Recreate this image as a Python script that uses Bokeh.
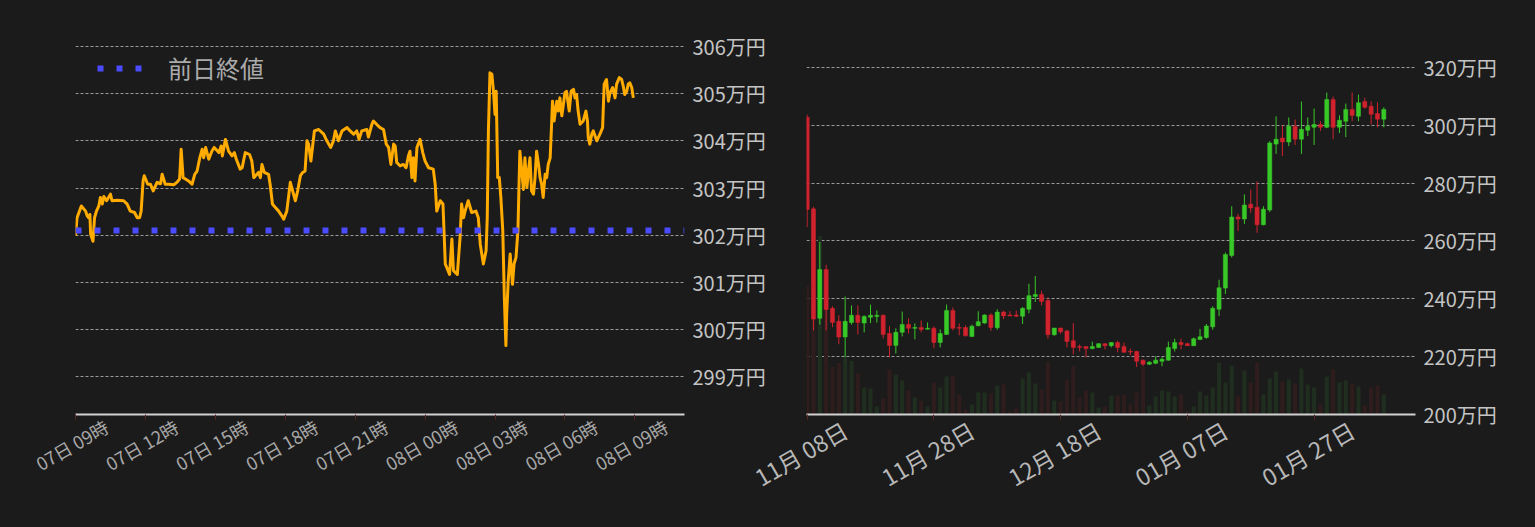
import numpy as np
import pandas as pd
from bokeh.plotting import figure
from bokeh.layouts import row
from bokeh.models import (Range1d, FixedTicker, PrintfTickFormatter, CustomJSTickFormatter,
                          LinearAxis, Legend, LegendItem)
from bokeh.embed import file_html
from bokeh.resources import INLINE

FONT = "Noto Sans CJK JP"
BG = "#1b1b1b"

# ---------------- intraday (left) ----------------
intraday_start = "2024-02-07 09:00"
intraday_minutes = [
    0, 4, 15, 26, 30, 34, 37, 39, 45, 49, 54, 60, 64, 69, 73, 80, 90, 94, 107, 124,
    133, 141, 152, 159, 165, 169, 174, 177, 186, 193, 200, 210, 219, 223, 231, 240, 253, 261, 268, 272,
    277, 283, 291, 300, 307, 313, 320, 326, 330, 335, 343, 351, 357, 369, 375, 378, 386, 394, 403, 409,
    414, 424, 429, 437, 448, 454, 459, 471, 476, 480, 486, 497, 501, 507, 514, 523, 531, 536, 544, 553,
    559, 566, 572, 579, 585, 591, 596, 600, 606, 615, 626, 639, 647, 657, 664, 669, 673, 677, 686, 699,
    707, 716, 724, 730, 737, 750, 754, 763, 767, 780, 784, 793, 800, 806, 812, 819, 823, 827, 836, 844,
    851, 857, 861, 866, 870, 874, 879, 887, 894, 900, 909, 921, 926, 930, 939, 946, 952, 963, 969, 973,
    983, 990, 994, 999, 1003, 1011, 1020, 1031, 1037, 1042, 1050, 1057, 1060, 1063, 1067, 1072, 1076, 1080, 1083, 1087,
    1091, 1095, 1100, 1104, 1108, 1110, 1114, 1119, 1125, 1129, 1134, 1139, 1141, 1144, 1149, 1153, 1157, 1162, 1166, 1170,
    1174, 1179, 1183, 1187, 1192, 1196, 1200, 1204, 1209, 1213, 1217, 1222, 1226, 1228, 1232, 1239, 1243, 1247, 1252, 1256,
    1260, 1264, 1271, 1276, 1282, 1286, 1290, 1294, 1299, 1307, 1314, 1318, 1320, 1324, 1329, 1333, 1342, 1350, 1357, 1361,
    1367, 1372, 1376, 1383, 1389, 1393, 1400, 1406, 1410, 1414, 1419, 1423, 1427, 1432, 1436,
]
intraday_price = [
    301.99, 302.37, 302.62, 302.51, 302.41, 302.37, 302.44, 302.02, 301.87, 302.37, 302.51, 302.62, 302.80, 302.66, 302.82, 302.73, 302.87, 302.73, 302.74, 302.73,
    302.66, 302.51, 302.48, 302.37, 302.37, 302.51, 303.15, 303.26, 303.08, 303.08, 302.94, 303.12, 303.09, 303.29, 303.08, 303.08, 303.07, 303.12, 303.19, 303.82,
    303.22, 303.19, 303.15, 303.08, 303.29, 303.36, 303.64, 303.82, 303.64, 303.86, 303.61, 303.78, 303.86, 303.75, 303.89, 303.68, 304.03, 303.78, 303.68, 303.75,
    303.61, 303.40, 303.43, 303.75, 303.71, 303.57, 303.22, 303.33, 303.22, 303.50, 303.33, 303.29, 303.08, 302.66, 302.59, 302.51, 302.41, 302.34, 302.51, 303.12,
    302.94, 302.73, 302.94, 303.26, 303.33, 303.36, 304.00, 303.93, 303.57, 304.21, 304.24, 304.14, 304.00, 303.86, 304.00, 304.21, 304.11, 304.00, 304.21, 304.28,
    304.21, 304.14, 304.21, 304.03, 304.21, 304.24, 304.08, 304.35, 304.42, 304.31, 304.28, 304.24, 303.93, 303.86, 303.50, 303.93, 303.89, 303.54, 303.47, 303.50,
    303.43, 303.68, 303.78, 303.22, 303.64, 303.15, 303.86, 304.03, 303.75, 303.57, 303.43, 303.40, 303.08, 302.51, 302.73, 302.66, 301.39, 301.17, 301.92, 301.25,
    301.17, 301.95, 302.66, 302.37, 302.51, 302.73, 302.48, 302.51, 302.37, 301.81, 301.39, 301.67, 302.37, 304.21, 305.44, 305.41, 305.05, 304.56, 305.05, 303.22,
    303.22, 302.80, 302.09, 300.68, 299.66, 300.33, 301.03, 301.60, 300.96, 301.39, 301.53, 302.09, 302.80, 303.78, 303.36, 302.97, 303.64, 303.01, 303.36, 303.64,
    302.94, 302.87, 303.22, 303.78, 303.50, 303.22, 303.08, 302.80, 303.29, 303.22, 303.50, 303.64, 304.42, 304.84, 304.42, 304.84, 304.63, 304.91, 304.53, 304.77,
    305.02, 305.05, 304.63, 305.05, 305.09, 304.91, 304.98, 304.63, 304.35, 304.42, 304.63, 304.42, 304.07, 303.93, 304.14, 304.21, 304.00, 304.14, 304.28, 305.20,
    305.30, 304.84, 305.02, 305.13, 304.91, 305.20, 305.34, 305.30, 305.16, 304.98, 305.05, 305.20, 305.23, 305.13, 304.91,
]
prev_close = 302.1
intraday_yticks = [299, 300, 301, 302, 303, 304, 305, 306]
intraday_tick_hours = [0, 3, 6, 9, 12, 15, 18, 21, 24]
intraday_tick_labels = ["07日 09時", "07日 12時", "07日 15時", "07日 18時", "07日 21時",
                        "08日 00時", "08日 03時", "08日 06時", "08日 09時"]
legend_label = "前日終値"

# ---------------- daily (right) ----------------
daily_start = "2023-11-08"
daily_open = [302.8, 271.1, 233.3, 250.1, 236.7, 232.2, 226.8, 231.8, 234.3, 231.6,
              233.6, 233.9, 234.3, 228.0, 223.9, 228.4, 231.1, 229.8, 230.1, 229.5,
              229.8, 224.9, 227.7, 236.0, 230.1, 230.1, 227.0, 230.7, 231.6, 234.4,
              230.0, 235.4, 234.4, 234.4, 234.0, 236.4, 240.8, 241.5, 239.4, 227.6,
              229.9, 228.9, 225.5, 223.5, 223.5, 222.8, 223.2, 224.5, 223.8, 224.9,
              223.5, 221.8, 221.8, 218.8, 217.4, 217.7, 218.4, 218.8, 222.8, 224.9,
              224.5, 223.8, 225.9, 226.6, 230.3, 236.4, 243.7, 255.0, 268.3, 267.6,
              272.7, 271.7, 265.6, 270.7, 293.5, 295.6, 294.2, 299.7, 295.2, 298.3,
              299.3, 300.3, 299.3, 308.9, 299.3, 301.4, 305.5, 303.1, 308.2, 306.6,
              304.1, 302.1]
daily_high = [303.7, 271.8, 259.7, 251.8, 237.4, 234.3, 240.8, 237.7, 237.7, 234.3,
              238.0, 236.0, 234.6, 230.5, 229.8, 235.6, 233.2, 231.5, 232.5, 231.8,
              230.5, 229.4, 238.0, 237.0, 231.5, 230.8, 231.1, 235.7, 234.6, 235.0,
              236.4, 235.9, 235.7, 235.9, 237.1, 245.2, 247.9, 242.8, 240.5, 229.9,
              230.0, 229.3, 231.6, 224.2, 223.6, 225.2, 224.6, 224.6, 225.0, 225.5,
              224.9, 222.8, 222.0, 219.0, 218.4, 220.1, 219.8, 225.2, 226.2, 226.2,
              224.9, 226.6, 229.6, 231.3, 237.4, 246.6, 256.0, 272.0, 269.3, 276.1,
              277.8, 280.6, 272.0, 294.5, 303.1, 300.0, 302.7, 302.0, 308.2, 302.7,
              305.8, 301.4, 311.3, 309.9, 303.4, 307.5, 311.3, 310.6, 309.5, 308.3,
              307.9, 306.2]
daily_low = [264.8, 229.1, 231.1, 229.1, 230.2, 224.3, 219.8, 231.1, 227.7, 228.4,
             231.6, 231.8, 226.3, 219.8, 221.1, 227.0, 228.0, 226.0, 228.4, 229.4,
             222.9, 223.2, 227.5, 229.1, 227.4, 227.0, 226.8, 230.5, 231.4, 228.9,
             229.3, 233.0, 234.0, 233.7, 231.3, 235.0, 238.9, 237.7, 226.2, 227.2,
             227.9, 223.2, 220.8, 221.8, 219.8, 222.5, 223.1, 222.5, 223.2, 221.5,
             221.4, 220.5, 216.4, 216.7, 217.1, 217.4, 216.7, 218.6, 221.8, 222.5,
             223.7, 223.7, 225.8, 226.2, 229.3, 234.0, 241.7, 254.3, 263.5, 265.9,
             269.7, 262.8, 265.4, 270.0, 290.1, 289.4, 292.8, 293.2, 290.1, 296.3,
             293.2, 298.0, 299.0, 295.2, 297.3, 295.9, 301.4, 301.4, 305.7, 300.3,
             299.3, 299.3]
daily_close = [270.9, 233.0, 250.1, 236.3, 231.8, 226.8, 232.2, 234.3, 231.8, 233.9,
               234.3, 234.3, 227.7, 223.9, 228.4, 231.1, 229.8, 230.1, 229.4, 229.8,
               224.9, 228.0, 236.0, 229.8, 229.8, 227.2, 230.5, 232.1, 234.4, 230.1,
               235.4, 234.1, 234.1, 234.0, 236.7, 241.1, 241.5, 239.1, 227.6, 229.9,
               228.6, 225.2, 223.2, 223.2, 222.8, 223.5, 224.5, 223.8, 224.9, 223.2,
               221.5, 221.6, 218.4, 217.4, 218.1, 218.8, 219.1, 223.2, 224.9, 224.2,
               223.8, 226.2, 226.9, 230.6, 236.7, 243.8, 255.3, 268.3, 267.6, 272.4,
               271.4, 265.6, 271.0, 293.9, 295.2, 294.2, 299.7, 295.2, 298.6, 299.7,
               300.3, 299.3, 308.9, 299.3, 301.7, 305.5, 303.4, 307.8, 306.2, 303.8,
               302.1, 305.5]
daily_volume = [129, 170, 179, 125, 48, 52, 57, 54, 41, 27,
                26, 8, 16, 45, 40, 34, 24, 17, 14, 8,
                32, 27, 38, 39, 20, 5, 10, 22, 22, 21,
                29, 30, 3, 6, 36, 42, 31, 25, 53, 14,
                13, 35, 49, 17, 24, 22, 7, 8, 19, 19,
                20, 10, 22, 48, 9, 18, 24, 23, 18, 20,
                3, 8, 23, 19, 27, 52, 32, 49, 18, 44,
                32, 52, 20, 36, 43, 33, 35, 31, 46, 30,
                27, 10, 38, 45, 32, 34, 31, 28, 9, 27,
                29, 20]
daily_yticks = [200, 220, 240, 260, 280, 300, 320]
daily_tick_dates = ["2023-11-08", "2023-11-28", "2023-12-18", "2024-01-07", "2024-01-27"]
daily_tick_labels = ["11月 08日", "11月 28日", "12月 18日", "01月 07日", "01月 27日"]

# ---------------- styling helpers ----------------
UP, DOWN = "#38c828", "#d0232e"
VOL_UP, VOL_DOWN = "#1f2e1f", "#2f1d1d"
HOUR = 3600 * 1000
DAY = 24 * HOUR


def ms(ts):
    return pd.Timestamp(ts).value / 1e6


def style(p, yticks, font_size):
    p.xgrid.visible = False
    p.ygrid.grid_line_color = "#9a9a9a"
    p.ygrid.grid_line_dash = "3 2"
    p.ygrid.grid_line_width = 1
    p.yaxis.ticker = FixedTicker(ticks=yticks)
    p.yaxis.formatter = PrintfTickFormatter(format="%d万円")
    p.yaxis.axis_line_color = None
    p.yaxis.major_tick_line_color = None
    p.yaxis.major_tick_out = 0
    p.yaxis.major_tick_in = 0
    p.yaxis.minor_tick_line_color = None
    p.yaxis.minor_tick_out = 0
    p.yaxis.major_label_standoff = 8
    p.yaxis.major_label_text_font = FONT
    p.yaxis.major_label_text_font_size = font_size
    p.yaxis.major_label_text_color = "#c4c4c4"
    p.xaxis.formatter = CustomJSTickFormatter(code="return ''")
    p.xaxis.major_label_standoff = 0
    p.xaxis.axis_line_color = "#d2d2d2"
    p.xaxis.axis_line_width = 2
    p.xaxis.major_tick_line_color = "#5a2626"
    p.xaxis.major_tick_in = 0
    p.xaxis.major_tick_out = 5
    p.xaxis.minor_tick_line_color = None


def label_axis(p, range_name, tick_values, tick_texts, shift, font_size, color, standoff):
    """Rotated tick labels centred on the ticks: a tick-less axis on a shifted copy
    of the x range, so that the right-aligned rotated label is centred on the tick."""
    xr = p.x_range
    p.extra_x_ranges = {range_name: Range1d(xr.start - shift, xr.end - shift)}
    ax = LinearAxis(x_range_name=range_name, ticker=FixedTicker(ticks=tick_values),
                    formatter=CustomJSTickFormatter(
                        args=dict(tvals=tick_values, ttexts=tick_texts),
                        code="const i = tvals.findIndex(t => Math.abs(t - tick) < 1);"
                             "return i >= 0 ? ttexts[i] : '';"),
                    major_label_orientation=np.pi / 6,
                    axis_line_color=None, major_tick_line_color=None, minor_tick_line_color=None,
                    major_tick_out=0, minor_tick_out=0,
                    major_label_standoff=standoff,
                    major_label_text_font=FONT, major_label_text_font_size=font_size,
                    major_label_text_color=color)
    p.add_layout(ax, "below")


# ---------------- left figure ----------------
t0 = pd.Timestamp(intraday_start)
times = (t0 + pd.to_timedelta(intraday_minutes, unit="m")).values
lx0 = ms(t0)
lx1 = lx0 + 26.13 * HOUR
ly0, ly1 = 298.2, 306.02
p1 = figure(width=768, height=526, x_axis_type="datetime", y_axis_location="right",
            x_range=Range1d(lx0, lx1), y_range=Range1d(ly0, ly1),
            output_backend="svg", toolbar_location=None,
            background_fill_color=BG, border_fill_color=BG, outline_line_color=None,
            min_border_left=75, min_border_right=83, min_border_top=44, min_border_bottom=112)
style(p1, intraday_yticks, "20px")
lticks = [lx0 + h * HOUR for h in intraday_tick_hours]
p1.xaxis.ticker = FixedTicker(ticks=lticks)

p1.line(x=times, y=intraday_price, line_color="#ffab00", line_width=3, line_join="round")
r_prev = p1.line(x=[lx0, lx1], y=[prev_close, prev_close], line_color="#4b4bff",
                 line_width=6, line_dash="6 13", line_cap="butt")

legend = Legend(items=[LegendItem(label=legend_label, renderers=[r_prev])],
                location=(22, 329), padding=0, margin=0, spacing=0,
                glyph_width=46, glyph_height=24, label_standoff=25,
                label_text_font=FONT, label_text_font_size="24px", label_text_color="#aaaaaa",
                background_fill_alpha=0, border_line_alpha=0)
p1.add_layout(legend)

# px per hour = 610 / 26.13; shift the right-aligned label ends right of the tick
label_axis(p1, "lbl", lticks, intraday_tick_labels, 31 / (610 / 26.13) * HOUR,
           "18px", "#a8a8a8", 5)

# ---------------- right figure ----------------
# its canvas overlaps the left one by 30px (transparent border) so that the first
# rotated date label can reach left of x = 768 as in the reference
OVERLAP = 30
d0 = pd.Timestamp(daily_start)
dates = (d0 + pd.to_timedelta(np.arange(len(daily_close)), unit="D")).values
rx0 = ms(d0) - 0.1 * DAY
rx1 = rx0 + 96.1 * DAY
ry0 = 200.0
ry1 = ry0 + 370 / 2.9
p2 = figure(width=766 + OVERLAP, height=526, x_axis_type="datetime", y_axis_location="right",
            x_range=Range1d(rx0, rx1), y_range=Range1d(ry0, ry1),
            output_backend="svg", toolbar_location=None,
            background_fill_color=BG, border_fill_color=None, outline_line_color=None,
            min_border_left=38 + OVERLAP, min_border_right=119, min_border_top=45,
            min_border_bottom=111, margin=(0, 0, 0, -OVERLAP))
style(p2, daily_yticks, "20px")
rticks = [ms(d) for d in daily_tick_dates]
p2.xaxis.ticker = FixedTicker(ticks=rticks)

up = [c >= o for o, c in zip(daily_open, daily_close)]
colors = [UP if u else DOWN for u in up]
vcolors = [VOL_UP if u else VOL_DOWN for u in up]
p2.extra_y_ranges = {"vol": Range1d(0, 370)}
p2.vbar(x=dates, top=daily_volume, bottom=0, width=0.65 * DAY, y_range_name="vol",
        fill_color=vcolors, line_color=None)
p2.segment(x0=dates, y0=daily_low, x1=dates, y1=daily_high, line_color=colors, line_width=1)
p2.vbar(x=dates, top=[max(o, c) for o, c in zip(daily_open, daily_close)],
        bottom=[min(o, c) for o, c in zip(daily_open, daily_close)],
        width=0.65 * DAY, fill_color=colors, line_color=colors, line_width=0.5)

# px per day = 609 / 96.1; shift the right-aligned label ends right of the tick
label_axis(p2, "lbl", rticks, daily_tick_labels, 38 / (609 / 96.1) * DAY,
           "23px", "#b8b8b8", 8)

layout = row(p1, p2, spacing=0)
html = file_html(layout, INLINE, title="chart")
html = html.replace("</head>", "<style>html,body{background-color:%s;}</style></head>" % BG, 1)
open("out.html", "w").write(html)
